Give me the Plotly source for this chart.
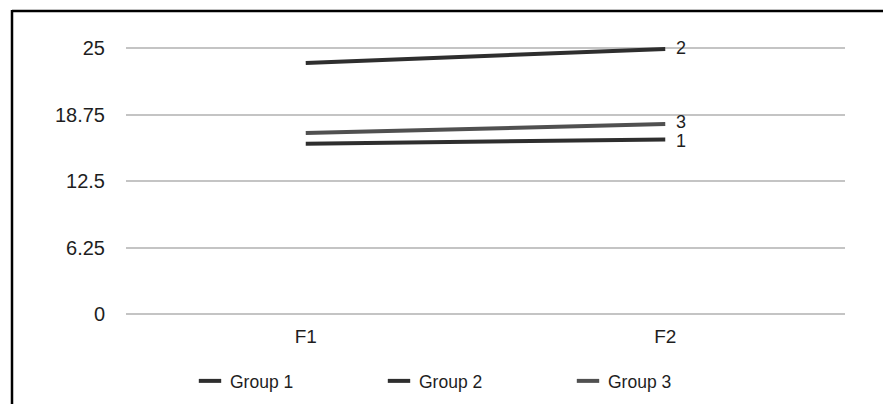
import plotly.graph_objects as go

# Category axis and series values
factors = ["F1", "F2"]
group_names = ["Group 1", "Group 2", "Group 3"]
end_labels = ["1", "2", "3"]
group1 = [16.0, 16.4]
group2 = [23.6, 24.9]
group3 = [17.0, 17.85]
series = [group1, group2, group3]
line_colors = ["#2e2e2e", "#2e2e2e", "#505050"]
label_nudge = [-1, 1, 2]

y_ticks = [0, 6.25, 12.5, 18.75, 25]
y_tick_text = ["0", "6.25", "12.5", "18.75", "25"]

FONT = "Liberation Sans, Arial, sans-serif"
TEXT_COLOR = "#1e1e1e"

# Plot area in pixels (width 883, height 404)
L, R, T, B = 126, 845, 30, 318
W, H = 883, 404

fig = go.Figure()

for name, vals, col in zip(group_names, series, line_colors):
    fig.add_trace(go.Scatter(
        x=factors, y=vals, mode="lines", name=name,
        line=dict(color=col, width=4),
        showlegend=False, hoverinfo="skip",
    ))

# Short-dash legend keys
for name, col in zip(group_names, line_colors):
    fig.add_trace(go.Scatter(
        x=[None], y=[None], mode="markers", name=name,
        marker=dict(symbol="line-ew", size=16, line=dict(color=col, width=4)),
        showlegend=True,
    ))

# Series number at the right end of each line
annotations = []
for lab, vals, nudge in zip(end_labels, series, label_nudge):
    annotations.append(dict(
        x=factors[-1], y=vals[-1], text=lab, showarrow=False,
        xanchor="left", yanchor="middle", xshift=9, yshift=nudge,
        font=dict(family=FONT, size=18, color=TEXT_COLOR),
    ))

def px_x(p):
    return (p - L) / (R - L)

def px_y(p):
    return (B - p) / (B - T)

# Frame lines along the top and left edges
shapes = [
    dict(type="line", xref="paper", yref="paper",
         x0=px_x(12), x1=px_x(900), y0=px_y(11), y1=px_y(11),
         line=dict(color="#000000", width=2.5)),
    dict(type="line", xref="paper", yref="paper",
         x0=px_x(12), x1=px_x(12), y0=px_y(10), y1=px_y(420),
         line=dict(color="#000000", width=2.5)),
]

units_per_px = 25 / (314 - 48)
fig.update_layout(
    width=W, height=H,
    margin=dict(l=L, r=W - R, t=T, b=H - B, autoexpand=False),
    paper_bgcolor="white", plot_bgcolor="white",
    font=dict(family=FONT, size=17, color=TEXT_COLOR),
    xaxis=dict(
        type="category", range=[-0.5, 1.5],
        showgrid=False, zeroline=False, showline=False,
        ticks="", tickfont=dict(size=19, color=TEXT_COLOR),
        ticklabelstandoff=5,
    ),
    yaxis=dict(
        range=[-(B - 314) * units_per_px, (314 - T) * units_per_px],
        tickvals=y_ticks, ticktext=y_tick_text,
        showgrid=True, gridcolor="#c4c4c4", gridwidth=2,
        zeroline=False, showline=False, ticks="",
        tickfont=dict(size=20, color=TEXT_COLOR),
        ticklabelstandoff=20,
    ),
    legend=dict(
        orientation="h", x=px_x(190), xanchor="left",
        y=px_y(381), yanchor="middle",
        entrywidth=144, entrywidthmode="pixels",
        font=dict(family=FONT, size=17.5, color=TEXT_COLOR),
        bgcolor="rgba(0,0,0,0)",
    ),
    annotations=annotations,
    shapes=shapes,
    showlegend=True,
)

fig.write_html("out.html")
